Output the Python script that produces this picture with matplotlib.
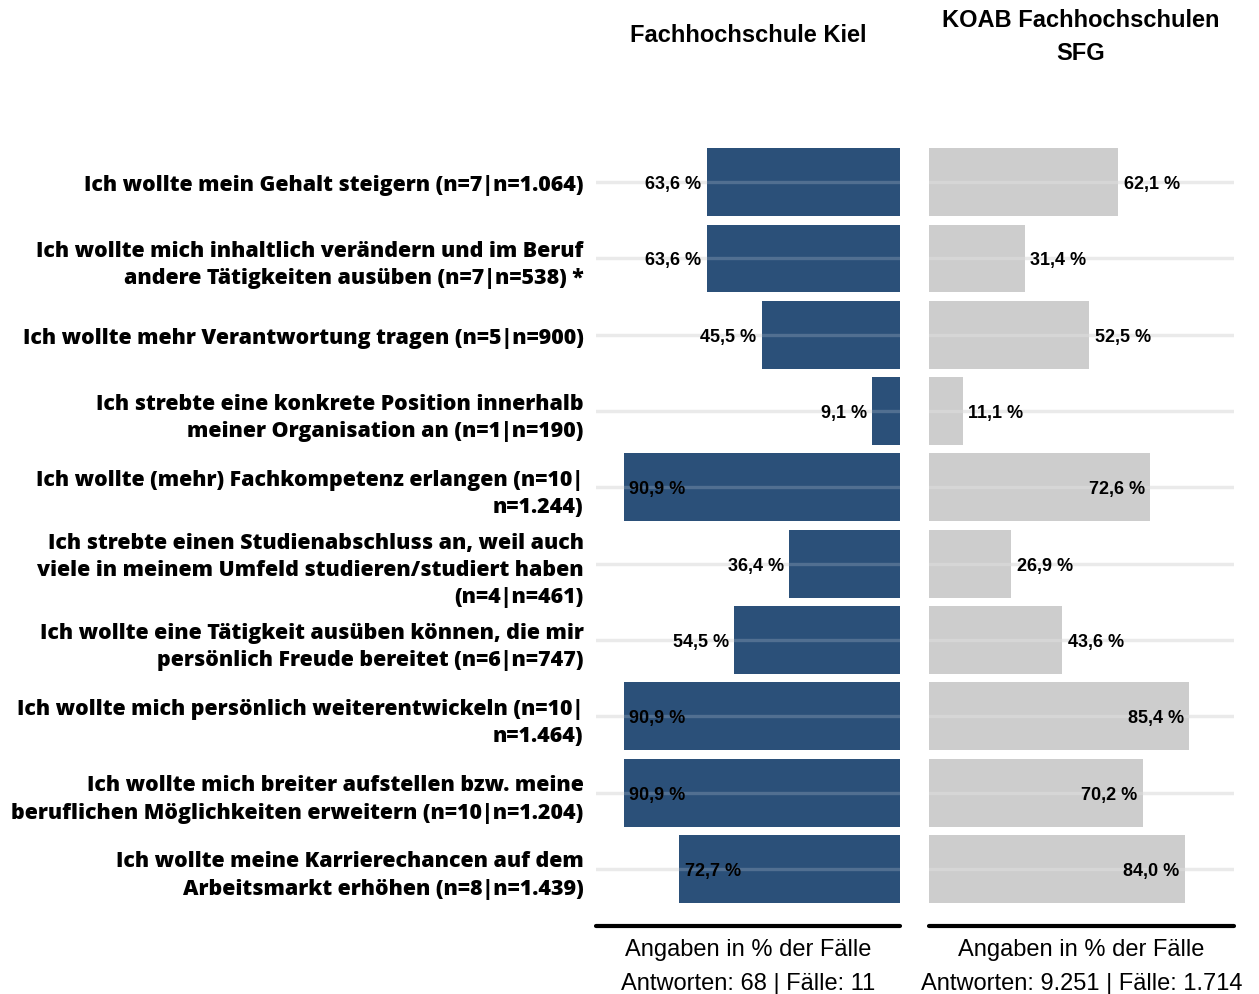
import matplotlib
matplotlib.use("Agg")
import matplotlib.pyplot as plt
import numpy as np

categories = [
    "Ich wollte mein Gehalt steigern (n=7|n=1.064)",
    "Ich wollte mich inhaltlich verändern und im Beruf\nandere Tätigkeiten ausüben (n=7|n=538) *",
    "Ich wollte mehr Verantwortung tragen (n=5|n=900)",
    "Ich strebte eine konkrete Position innerhalb\nmeiner Organisation an (n=1|n=190)",
    "Ich wollte (mehr) Fachkompetenz erlangen (n=10|\nn=1.244)",
    "Ich strebte einen Studienabschluss an, weil auch\nviele in meinem Umfeld studieren/studiert haben\n(n=4|n=461)",
    "Ich wollte eine Tätigkeit ausüben können, die mir\npersönlich Freude bereitet (n=6|n=747)",
    "Ich wollte mich persönlich weiterentwickeln (n=10|\nn=1.464)",
    "Ich wollte mich breiter aufstellen bzw. meine\nberuflichen Möglichkeiten erweitern (n=10|n=1.204)",
    "Ich wollte meine Karrierechancen auf dem\nArbeitsmarkt erhöhen (n=8|n=1.439)",
]
kiel = [63.6, 63.6, 45.5, 9.1, 90.9, 36.4, 54.5, 90.9, 90.9, 72.7]
koab = [62.1, 31.4, 52.5, 11.1, 72.6, 26.9, 43.6, 85.4, 70.2, 84.0]

title_left = "Fachhochschule Kiel"
title_right = "KOAB Fachhochschulen\nSFG"
xlabel_left = "Angaben in % der Fälle\nAntworten: 68 | Fälle: 11"
xlabel_right = "Angaben in % der Fälle\nAntworten: 9.251 | Fälle: 1.714"

BLUE = "#2b5079"
GRAY = "#cdcdcd"
GRID = "#e6e6e6"

W, H = 1259, 995
fig = plt.figure(figsize=(W / 100, H / 100), dpi=100)

def px_axes(x0, x1, ytop, ybot):
    return [x0 / W, 1 - ybot / H, (x1 - x0) / W, (ybot - ytop) / H]

ax1 = fig.add_axes(px_axes(596, 900, 145, 927))
ax2 = fig.add_axes(px_axes(929, 1234, 145, 927))

y = np.arange(len(categories))
fmt = lambda v: f"{v:.1f}".replace(".", ",") + " %"

for ax, vals, color, side in [(ax1, kiel, BLUE, "left"), (ax2, koab, GRAY, "right")]:
    ax.set_xlim(0, 100)
    ax.set_ylim(9.747, -0.5)
    for yy in y:
        ax.axhline(yy, color=GRID, lw=2.4, zorder=0)
        ax.axhline(yy, color="white", lw=2.4, alpha=0.18, zorder=3)
    ax.barh(y, vals, height=0.89, color=color, zorder=2)
    for yy, v in zip(y, vals):
        inside = v >= 68
        if side == "left":
            off, ha = (4, "left") if inside else (-4, "right")
        else:
            off, ha = (-4, "right") if inside else (4, "left")
        ax.annotate(fmt(v), xy=(v, yy), xytext=(off, -1), textcoords="offset points",
                    ha=ha, va="center", fontsize=13, fontweight="bold",
                    family="Liberation Sans", color="black", zorder=4)
    for s in ["top", "left", "right"]:
        ax.spines[s].set_visible(False)
    ax.spines["bottom"].set_linewidth(3)
    ax.spines["bottom"].set_capstyle("round")
    ax.spines["bottom"].set_color("black")
    ax.set_xticks([])
    ax.tick_params(axis="y", length=0)

ax1.invert_xaxis()
ax1.set_yticks(y)
ax1.set_yticklabels(categories, fontsize=15.4, fontweight=800, family="Open Sans",
                    linespacing=1.4)
ax1.tick_params(axis="y", pad=9)
ax2.set_yticks([])

for ax, lab in [(ax1, xlabel_left), (ax2, xlabel_right)]:
    ax.annotate(lab, xy=(0.5, 0), xycoords="axes fraction", xytext=(0, -9),
                textcoords="offset points", ha="center", va="top", fontsize=17,
                family="Liberation Sans", linespacing=1.65)

fig.text(748 / W, 1 - 36 / H, title_left, ha="center", va="center", fontsize=17,
         fontweight="bold", family="Liberation Sans")
fig.text(1081 / W, 1 - 37 / H, title_right, ha="center", va="center", fontsize=17,
         fontweight="bold", family="Liberation Sans", linespacing=1.6)

fig.savefig("out.png", dpi=100)
